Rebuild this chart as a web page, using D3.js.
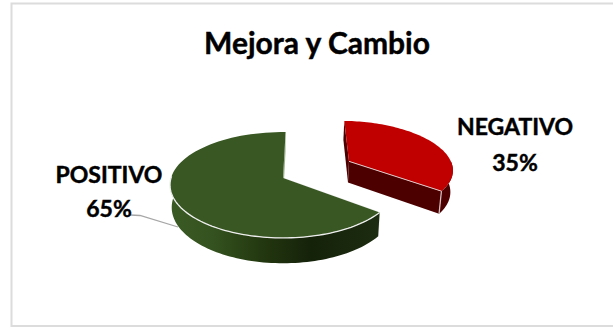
<!DOCTYPE html>
<html>
<head>
<meta charset="utf-8">
<script src="https://cdnjs.cloudflare.com/ajax/libs/d3/7.8.5/d3.min.js"></script>
<style>
html,body{margin:0;padding:0;background:#fff;overflow:hidden}
svg{display:block}
text{font-family:Lato,"Open Sans",sans-serif;font-weight:700;fill:#000;stroke:#000;stroke-width:0.45px;text-anchor:middle}
</style>
</head>
<body>
<svg id="chart" width="613" height="328"></svg>
<script>
const chartTitle = "Mejora y Cambio";
const categories = ["NEGATIVO", "POSITIVO"];
const shares = [35, 65];
const topColors = ["#c00000", "#385723"];

const svg = d3.select("#chart");
const toRad = Math.PI / 180;

// Tilted-disc projection: ground coordinates (u right, v away from the viewer)
// are mapped to the screen with a mild perspective.
const cx = 283, cy = 178, radiusX = 112, radiusY = 52, persp = 0.132, depth = 22;
const explode = 0.7;
const explodedScale = 0.95;

function project(u, v, drop) {
  const w = 1 + persp * v;
  const shrink = drop ? 0.985 : 1;
  return [
    cx + shrink * radiusX * u / w,
    cy - radiusY * v / w + (drop ? depth / w : 0)
  ];
}

const pie = d3.pie().sort(null).value(d => d).startAngle(1.5 * toRad).endAngle(361.5 * toRad);
const arcs = pie(shares);

const line = d3.line();
const rimPoint = (a, o, drop, r) => project(o[0] + r * Math.sin(a), o[1] + r * Math.cos(a), drop);
const angles = (a0, a1) => d3.range(0, 81).map(i => a0 + (a1 - a0) * i / 80);

const defs = svg.append("defs");
const greenWall = defs.append("linearGradient").attr("id", "greenWall")
  .attr("gradientUnits", "userSpaceOnUse").attr("x1", 172).attr("x2", 377).attr("y1", 0).attr("y2", 0);
[[0, "#3a5a24"], [0.2, "#34521f"], [0.45, "#22360f"], [0.68, "#15220a"], [1, "#1c2c10"]]
  .forEach(([o, c]) => greenWall.append("stop").attr("offset", o).attr("stop-color", c));

// Chart frame, open past the right-hand edge of the page
svg.append("rect").attr("x", 11.5).attr("y", 3.5).attr("width", 640).attr("height", 322.5)
  .attr("fill", "#fff").attr("stroke", "#dcdcdc").attr("stroke-width", 2);

svg.append("text").attr("x", 317).attr("y", 54).attr("font-size", 30).text(chartTitle);

// Leader line of the POSITIVO label
svg.append("path").attr("fill", "none").attr("stroke", "#a6a6a6").attr("stroke-width", 1.3)
  .attr("d", line([[130, 215], [140, 215.5], [178, 227]]));

function drawSlice(arc, offset, r, wallFill, cutFill, cutEdge) {
  const vertexTop = project(offset[0], offset[1], false);
  const vertexLow = project(offset[0], offset[1], true);
  const a0 = arc.startAngle, a1 = arc.endAngle;
  const g = svg.append("g");

  // Cut face at the start angle, seen edge-on
  const s0 = rimPoint(a0, offset, false, r), s0b = rimPoint(a0, offset, true, r);
  g.append("path").attr("d", line([vertexTop, s0, s0b, vertexLow]) + "Z")
    .attr("fill", cutFill).attr("stroke", cutEdge).attr("stroke-width", 1);

  // Cut face at the end angle
  const e0 = rimPoint(a1, offset, false, r), e0b = rimPoint(a1, offset, true, r);
  g.append("path").attr("d", line([vertexTop, e0, e0b, vertexLow]) + "Z").attr("fill", cutFill);

  // Outer wall along the part of the rim that faces the viewer
  const lo = Math.max(a0, 90 * toRad), hi = Math.min(a1, 272 * toRad);
  const front = angles(lo, hi);
  const upper = front.map(a => rimPoint(a, offset, false, r));
  const lower = front.map(a => rimPoint(a, offset, true, r));
  g.append("path").attr("d", line(upper.concat(lower.reverse())) + "Z").attr("fill", wallFill);

  // Top surface
  const rim = angles(a0, a1).map(a => rimPoint(a, offset, false, r));
  g.append("path").attr("d", line([vertexTop].concat(rim)) + "Z")
    .attr("fill", topColors[arc.index]);

  return {g, upper, vertexTop, e0, e0b};
}

// The slices are painted back to front: the full wedge first, the pulled-out one after it
const pos = drawSlice(arcs[1], [0, 0], 1, "url(#greenWall)", "#9db08e", "#ececec");
pos.g.append("path").attr("d", line(pos.upper)).attr("fill", "none")
  .attr("stroke", "#eeeeee").attr("stroke-width", 1.3);

const mid = (arcs[0].startAngle + arcs[0].endAngle) / 2 - 3 * toRad;
const neg = drawSlice(arcs[0], [explode * Math.sin(mid), explode * Math.cos(mid)], explodedScale, "#4d0000", "#4d0000", "none");
neg.g.append("path").attr("d", line([neg.vertexTop, neg.e0])).attr("fill", "none")
  .attr("stroke", "#e0c8c8").attr("stroke-width", 1);
neg.g.append("path").attr("d", line([neg.e0, neg.e0b])).attr("fill", "none")
  .attr("stroke", "#d8c4c4").attr("stroke-width", 1.2);

// Data labels
const labelSpots = [[515, 135, 171], [109, 183, 217]];
categories.forEach((name, i) => {
  const [x, y1, y2] = labelSpots[i];
  svg.append("text").attr("x", x).attr("y", y1).attr("font-size", 23).text(name);
  svg.append("text").attr("x", x).attr("y", y2).attr("font-size", 23).text(shares[i] + "%");
});
</script>
</body>
</html>
